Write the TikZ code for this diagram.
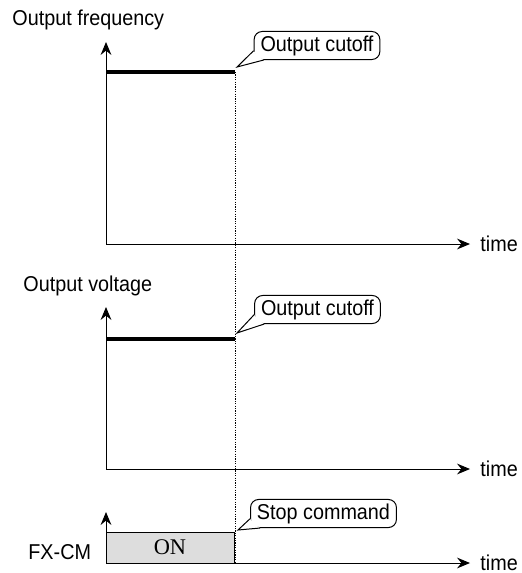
\documentclass[tikz,border=0pt]{standalone}
\usepackage{fontspec}
\setmainfont{Liberation Sans}[FakeStretch=0.92]
\newfontfamily\serifon{Liberation Serif}
\usetikzlibrary{positioning, arrows.meta}
\definecolor{onfill}{RGB}{221, 221, 221}
\tikzset{
  axis/.style={-{Stealth[length=6.5pt, width=5.4pt, inset=2.2pt]}, line width=0.5pt},
  level/.style={line width=1.6pt},
  cut/.style={dash pattern=on 0.6pt off 0.6pt, line width=0.4pt},
  lbl/.style={font=\fontsize{10.75}{12}\selectfont, inner sep=0pt},
  note/.style={draw, fill=white, line width=0.5pt, rounded corners=4pt,
               font=\fontsize{10.75}{12}\selectfont, minimum height=14pt,
               inner xsep=3.2pt, inner ysep=2pt},
  tail/.style={line width=0.5pt, line join=miter},
  onbox/.style={draw, fill=onfill, line width=0.5pt, minimum width=64pt,
                minimum height=15.5pt, inner sep=0pt,
                font=\serifon\fontsize{11.2}{12}\selectfont},
}
\begin{document}
\begin{tikzpicture}[x=0.5pt, y=-0.5pt]
  \useasboundingbox (0,0) rectangle (521,573);

  % output frequency
  \coordinate (o1) at (106,244);
  \coordinate (y1) at (106,42);
  \coordinate (x1) at (470,244);
  \coordinate (f0) at (106,72);
  \coordinate (f1) at (235,72);
  \coordinate (p1) at (237,67);
  \draw[axis] (o1) -- (y1);
  \draw[axis] (o1) -- (x1);
  \draw[level] (f0) -- (f1);
  \node[lbl, anchor=west] (freq) at (12,20) {Output frequency};
  \node[lbl, right=5pt of x1] (t1) {time};
  \node[note] (cut1) at (317,45.5) {Output cutoff};

  % output voltage
  \coordinate (o2) at (106,469);
  \coordinate (y2) at (106,307);
  \coordinate (x2) at (470,469);
  \coordinate (v0) at (106,339);
  \coordinate (v1) at (235,339);
  \coordinate (p2) at (237,333);
  \draw[axis] (o2) -- (y2);
  \draw[axis] (o2) -- (x2);
  \draw[level] (v0) -- (v1);
  \node[lbl, anchor=west] (volt) at (23,286) {Output voltage};
  \node[lbl, right=5pt of x2] (t2) {time};
  \node[note] (cut2) at (317.5,309.5) {Output cutoff};

  % FX-CM signal
  \coordinate (o3) at (106,563);
  \coordinate (y3) at (106,512);
  \coordinate (x3) at (470,563);
  \coordinate (p3) at (238,530);
  \node[onbox] (on) at (170,547.5) {ON};
  \draw[axis] (o3) -- (y3);
  \draw[axis] (o3) -- (x3);
  \node[lbl, anchor=west] (fxcm) at (28,552) {FX-CM};
  \node[lbl, right=5pt of x3] (t3) {time};
  \node[note] (stop) at (323.5,513.5) {Stop command};

  % callout tails
  \foreach \b/\p in {cut1/p1, cut2/p2, stop/p3} {
    \fill[white] ([yshift=-2.6pt]\b.west) -- (\p) -- ([xshift=5pt]\b.south west)
      -- ([shift={(2pt,2pt)}]\b.south west) -- cycle;
    \draw[tail] ([yshift=-2.6pt]\b.west) -- (\p) -- ([xshift=5pt]\b.south west);
  }

  % cutoff instant
  \draw[cut] (f1) -- (f1 |- o3);
\end{tikzpicture}
\end{document}
